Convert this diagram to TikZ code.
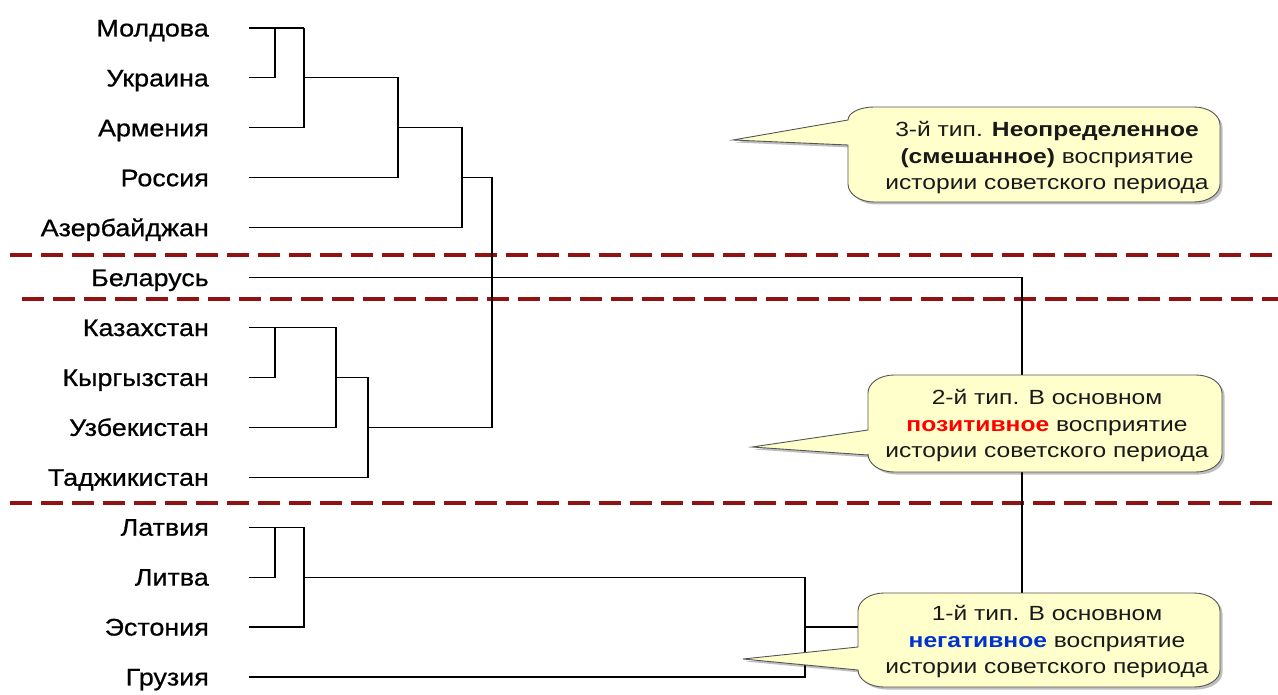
\documentclass[tikz,border=0pt]{standalone}
\usepackage{fontspec}
\setmainfont{Liberation Sans}
\newfontfamily\countryfont[FakeStretch=1.12, FakeBold=0.7]{Liberation Sans}
\newfontfamily\notefont[FakeStretch=1.2]{Liberation Sans}
\usepackage{xcolor}
\usetikzlibrary{shadows, calc}
\definecolor{sepRed}{RGB}{145,18,18}
\definecolor{noteYellow}{RGB}{255,255,204}
\definecolor{noteBorder}{RGB}{85,85,85}
\definecolor{posRed}{RGB}{255,0,0}
\definecolor{negBlue}{RGB}{0,51,204}

\begin{document}
\begin{tikzpicture}[x=1pt, y=-1pt,
    country/.style={anchor=east, inner sep=0pt, text height=17pt, text depth=0pt,
      font=\countryfont\fontsize{24}{28}\selectfont},
    link/.style={draw=black, line width=1.1pt},
    separator/.style={draw=sepRed, line width=3.2pt, dash pattern=on 22pt off 9pt},
    bubble/.style={fill=noteYellow, draw=noteBorder, line width=0.9pt,
      drop shadow={shadow xshift=2.5pt, shadow yshift=-2.5pt, fill=black, opacity=0.25}},
    note/.style={align=center, inner sep=0pt, text=black!90,
      font=\notefont\fontsize{20.5}{26.5}\selectfont}
  ]
  \useasboundingbox (0,0) rectangle (1278,695);

  % group borders
  \draw[separator] (10,255) -- (1278,255);
  \draw[separator] (22,299) -- (1278,299);
  \draw[separator] (10,503) -- (1278,503);

  % countries
  \foreach \name/\txt [count=\i from 0] in {mol/Молдова, ukr/Украина, arm/Армения, rus/Россия,
      aze/Азербайджан, blr/Беларусь, kaz/Казахстан, kgz/Кыргызстан, uzb/Узбекистан,
      tjk/Таджикистан, lva/Латвия, ltu/Литва, est/Эстония, geo/Грузия}
  {
    \node[country] (\name) at (209, 28+49.92*\i) {\txt};
    \coordinate (\name-line) at ([xshift=40pt]\name.east);
  }

  % merge levels
  \coordinate (k1) at (275,0);
  \coordinate (k2) at (304,0);
  \coordinate (c2) at (336,0);
  \coordinate (c3) at (368,0);
  \coordinate (k3) at (398,0);
  \coordinate (k4) at (462,0);
  \coordinate (k5) at (492,0);
  \coordinate (g) at (805,0);
  \coordinate (root) at (1022,0);

  % dendrogram
  \draw[link] (mol-line) -- (mol-line -| k2);
  \draw[link] (ukr-line) -| (mol-line -| k1);
  \draw[link] (arm-line) -| (mol-line -| k2);
  \draw[link] (ukr-line -| k2) -| (rus-line -| k3) -- (rus-line);
  \draw[link] (arm-line -| k3) -| (aze-line -| k4) -- (aze-line);
  \draw[link] (rus-line -| k4) -| (uzb-line -| k5) -- (uzb-line -| c3);
  \draw[link] (kaz-line) -| (uzb-line -| c2) -- (uzb-line);
  \draw[link] (kgz-line) -| (kaz-line -| k1);
  \draw[link] (kgz-line -| c2) -| (tjk-line -| c3) -- (tjk-line);
  \draw[link] (blr-line) -| (est-line -| root) -- (est-line -| g);
  \draw[link] (lva-line) -| (est-line -| k2) -- (est-line);
  \draw[link] (ltu-line) -| (lva-line -| k1);
  \draw[link] (ltu-line -| k2) -| (geo-line -| g) -- (geo-line);

  % callouts
  \draw[bubble] (848,145) -- (848,184) arc[start angle=180, end angle=90, x radius=26, y radius=18]
    -- (1194,202) arc[start angle=90, end angle=0, x radius=26, y radius=18]
    -- (1220,125) arc[start angle=0, end angle=-90, x radius=26, y radius=18]
    -- (874,107) arc[start angle=270, end angle=180, x radius=26, y radius=13]
    -- (733,140) -- cycle;
  \node[note] (type3) at (1047,158) {3-й тип. \textbf{Неопределенное}\\\textbf{(смешанное)} восприятие\\истории советского периода};

  \draw[bubble] (868,455) -- (868,454) arc[start angle=180, end angle=90, x radius=26, y radius=18]
    -- (1196,472) arc[start angle=90, end angle=0, x radius=26, y radius=18]
    -- (1222,393) arc[start angle=0, end angle=-90, x radius=26, y radius=18]
    -- (894,375) arc[start angle=270, end angle=180, x radius=26, y radius=18]
    -- (868,430) -- (752,447) -- cycle;
  \node[note] (type2) at (1047,426) {2-й тип. В основном\\\textcolor{posRed}{\textbf{позитивное}} восприятие\\истории советского периода};

  \draw[bubble] (858,670) arc[start angle=180, end angle=90, x radius=26, y radius=17]
    -- (1194,687) arc[start angle=90, end angle=0, x radius=26, y radius=17]
    -- (1220,611) arc[start angle=0, end angle=-90, x radius=26, y radius=18]
    -- (884,593) arc[start angle=270, end angle=180, x radius=26, y radius=18]
    -- (858,647) -- (743,659) -- cycle;
  \node[note] (type1) at (1047,642) {1-й тип. В основном\\\textcolor{negBlue}{\textbf{негативное}} восприятие\\истории советского периода};
\end{tikzpicture}
\end{document}
